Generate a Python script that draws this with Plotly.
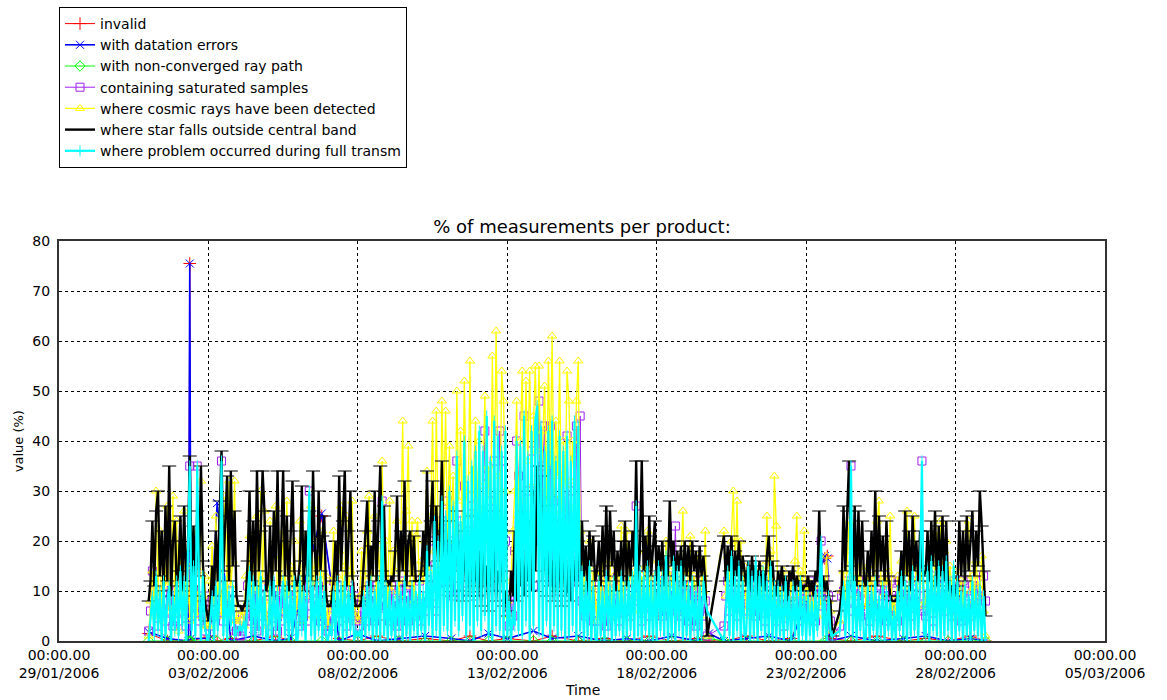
import pandas as pd
import plotly.graph_objects as go

# One product every 90 minutes, 01/02/2006 00:00 -> 01/03/2006 00:00 (16 per day)
times = pd.date_range("2006-02-01 00:00", "2006-03-01 00:00", freq="90min")

# % of measurements where star falls outside central band (None = no product)
star_outside = [
    8, 12, 24, 11, 26, 30, 13, 22, 10, 27, 12, 35, 9, 20, 24, 11,          # 01/02
    14, 25, 10, 27, 12, 18, 37, 11, 23, 9, 26, 13, 35, 16, 8, 6,           # 02/02
    4, 7, 15, 9, 22, 12, 28, 38, 14, 25, 33, 12, 34, 15, 26, 9,            # 03/02
    7, 7, 6, 7, 8, 16, 30, 12, 24, 11, 34, 14, 22, 34, 26, 10,             # 04/02
    12, 23, 9, 26, 14, 34, 11, 20, 34, 13, 25, 10, 22, 32, 14, 11,         # 05/02
    12, 16, 31, 10, 22, 13, 26, 12, 34, 18, 11, 30, 14, 21, 25, 9,         # 06/02
    7, 7, 8, 12, 20, 10, 33, 14, 24, 34, 11, 22, 30, 13, 9, 7,             # 07/02
    7, 7, 8, 14, 22, 28, 11, 19, 13, 30, 12, 24, 35, 14, 27, 12,           # 08/02
    12, 11, 13, 12, 18, 29, 12, 22, 14, 32, 11, 20, 22, 13, 21, 12,        # 09/02
    12, 12, 14, 22, 13, 34, 15, 24, 32, 12, 27, 16, 22, 36, 13, 20,        # 10/02
    11, 24, 9, 18, 14, 26, 10, 20, 8, 22, 12, 17, 9, 25, 11, 16,           # 11/02
    9, 18, 7, 23, 11, 15, 6, 21, 10, 26, 8, 14, 12, 19, 7, 10,             # 12/02
    5, 6, 14, 9, 22, 8, 18, 11, 26, 9, 15, 12, 24, 10, 30, 14,             # 13/02
    35, 27, 33, 12, 27, 9, 20, 11, 16, 8, 24, 10, 19, 7, 22, 9,            # 14/02
    10, 16, 8, 18, 12, 14, 20, 11, 24, 13, 19, 10, 22, 15, 21, 12,         # 15/02
    14, 20, 11, 23, 13, 27, 12, 26, 15, 22, 10, 18, 13, 20, 12, 24,        # 16/02
    11, 20, 13, 22, 15, 36, 12, 18, 36, 14, 21, 11, 25, 13, 19, 24,        # 17/02
    12, 19, 14, 20, 11, 17, 13, 28, 15, 20, 12, 18, 14, 19, 11, 20,        # 18/02
    13, 19, 12, 20, 14, 18, 11, 19, 13, 17, 12, 1, None, None, None, None,  # 19/02
    None, None, None, None, 21, 12, 19, 14, 21, 11, 18, 13, 20, 12, 17, 14,  # 20/02
    11, 16, 10, 17, 12, 15, 9, 16, 11, 14, 10, 17, 21, 12, 16, 10,         # 21/02
    9, 14, 11, 15, 10, 13, 8, 14, 12, 15, 10, 13, 11, 12, 10, 11,          # 22/02
    11, 13, 10, 12, 9, 14, 12, 26, 11, 13, 10, 12, 9, 8, 1, None,          # 23/02
    None, None, 6, 10, 27, 14, 26, 36, 15, 12, 27, 11, 26, 13, 24, 12,     # 24/02
    11, 18, 12, 22, 13, 30, 11, 25, 14, 21, 12, 24, 13, 9, 8, 8,           # 25/02
    8, 9, 12, 18, 11, 26, 13, 22, 10, 25, 14, 20, 12, 22, 15, 13,          # 26/02
    14, 22, 12, 24, 15, 26, 11, 23, 13, 25, 12, 24, 10, 11, 10, 9,         # 27/02
    10, 11, 24, 13, 22, 12, 25, 14, 20, 26, 13, 22, 15, 30, 23, 14,        # 28/02
    5,                                                                     # 01/03
]

# % of measurements where a problem occurred during full transmission
full_transm = [
    0, 5, 9, 1, 13, 2, 10, 0, 12, 1, 8, 11, 0, 9, 2, 12,
    1, 14, 3, 12, 0, 17, 35, 2, 15, 1, 35, 11, 0, 13, 3, 1,
    0, 4, 9, 0, 11, 2, 10, 36, 1, 12, 0, 10, 3, 11, 1, 2,
    2, 3, 2, 4, 1, 9, 14, 1, 12, 0, 11, 2, 13, 1, 10, 0,
    1, 11, 0, 12, 2, 10, 0, 9, 12, 1, 11, 0, 10, 1, 12, 0,
    1, 12, 2, 10, 0, 13, 30, 1, 11, 0, 12, 2, 13, 0, 10, 1,
    0, 3, 1, 10, 0, 12, 2, 11, 0, 12, 1, 10, 2, 11, 0, 2,
    1, 2, 0, 9, 1, 11, 2, 12, 0, 10, 1, 12, 0, 28, 1, 11,
    0, 10, 1, 9, 0, 11, 2, 10, 0, 12, 1, 9, 0, 11, 2, 10,
    1, 12, 2, 10, 0, 18, 3, 14, 1, 24, 2, 20, 0, 28, 3, 25,
    2, 30, 1, 27, 4, 37, 2, 24, 5, 40, 1, 32, 3, 35, 0, 38,
    4, 42, 2, 38, 5, 45, 1, 36, 0, 44, 3, 41, 2, 38, 0, 42,
    1, 8, 0, 6, 3, 40, 2, 39, 1, 45, 4, 37, 0, 42, 3, 44,
    47, 2, 43, 1, 38, 4, 42, 0, 44, 3, 36, 1, 41, 2, 38, 0,
    41, 1, 36, 3, 44, 0, 43, 2, 14, 0, 12, 1, 15, 0, 11, 1,
    0, 12, 1, 10, 0, 13, 2, 11, 0, 12, 1, 10, 2, 13, 0, 11,
    1, 12, 2, 13, 0, 27, 1, 14, 0, 13, 2, 15, 1, 12, 0, 13,
    0, 15, 2, 13, 1, 17, 0, 12, 1, 16, 0, 14, 2, 15, 0, 12,
    1, 11, 0, 12, 2, 10, 0, 11, 1, 12, 8, 6, None, None, None, None,
    None, None, None, None, 0, 6, 14, 1, 17, 0, 13, 2, 15, 0, 12, 1,
    2, 15, 0, 13, 1, 16, 0, 13, 2, 14, 0, 12, 1, 15, 0, 11,
    0, 11, 1, 10, 0, 12, 2, 9, 0, 11, 1, 10, 0, 12, 1, 9,
    0, 9, 1, 8, 0, 10, 2, 9, 20, 1, 8, 0, 9, 2, 1, None,
    None, None, 2, 6, 11, 1, 12, 2, 35, 1, 12, 0, 10, 2, 11, 0,
    1, 11, 0, 10, 2, 12, 0, 9, 1, 11, 0, 10, 2, 8, 0, 6,
    0, 10, 2, 13, 1, 12, 0, 11, 1, 14, 2, 12, 0, 13, 36, 2,
    1, 14, 0, 16, 2, 13, 1, 15, 0, 14, 1, 16, 2, 12, 0, 15,
    0, 12, 2, 10, 0, 11, 1, 9, 0, 12, 2, 10, 1, 11, 0, 9,
    0,
]

# % of measurements where cosmic rays have been detected
cosmic_rays = [
    1, 8, 14, 5, 30, 9, 22, 4, 18, 11, 27, 6, 12, 29, 7, 24,
    2, 19, 6, 26, 8, 15, 4, 22, 10, 17, 5, 14, 32, 9, 13, 3,
    3, 12, 19, 7, 25, 9, 14, 5, 21, 29, 8, 32, 11, 16, 32, 4,
    4, 5, 6, 3, 13, 8, 21, 7, 18, 10, 25, 6, 30, 12, 26, 5,
    3, 24, 8, 17, 27, 5, 19, 12, 22, 6, 28, 9, 15, 11, 20, 6,
    10, 24, 4, 18, 21, 9, 15, 27, 5, 20, 12, 17, 8, 22, 5, 13,
    3, 6, 12, 22, 8, 13, 18, 27, 6, 15, 25, 9, 14, 28, 7, 5,
    4, 9, 18, 8, 13, 22, 29, 10, 16, 25, 7, 19, 12, 36, 14, 20,
    6, 28, 10, 18, 14, 24, 9, 20, 44, 12, 26, 39, 11, 24, 8, 21,
    24, 9, 16, 12, 20, 34, 14, 25, 44, 18, 46, 22, 15, 48, 27, 46,
    20, 39, 24, 33, 18, 50, 28, 42, 22, 52, 30, 25, 56, 19, 34, 44,
    26, 40, 18, 31, 49, 24, 35, 20, 57, 28, 62, 33, 22, 54, 48, 30,
    8, 5, 12, 22, 30, 48, 25, 40, 54, 28, 52, 36, 54, 31, 45, 55,
    38, 55, 30, 42, 51, 27, 56, 35, 61, 29, 44, 33, 56, 26, 40, 31,
    54, 48, 32, 40, 27, 48, 56, 22, 18, 9, 16, 12, 20, 7, 14, 10,
    4, 14, 8, 18, 6, 12, 9, 16, 5, 13, 10, 15, 7, 23, 11, 6,
    22, 7, 16, 9, 14, 11, 18, 6, 13, 10, 15, 22, 8, 16, 6, 13,
    5, 12, 8, 15, 10, 20, 7, 14, 11, 16, 9, 13, 6, 17, 26, 11,
    8, 14, 21, 6, 13, 9, 17, 5, 14, 10, 22, 1, None, None, None, None,
    None, None, None, None, 22, 9, 17, 12, 20, 30, 14, 28, 11, 20, 9, 15,
    6, 13, 5, 11, 8, 14, 7, 12, 9, 15, 10, 25, 12, 18, 8, 33,
    23, 7, 12, 5, 14, 9, 11, 6, 13, 8, 16, 25, 9, 14, 10, 22,
    8, 12, 4, 10, 6, 11, 5, 9, 7, 12, 10, 17, 8, 6, 2, None,
    None, None, 4, 10, 14, 8, 18, 24, 12, 16, 9, 20, 11, 15, 7, 14,
    7, 15, 10, 13, 8, 17, 24, 28, 12, 9, 16, 11, 14, 25, 6, 8,
    5, 13, 9, 16, 11, 14, 26, 10, 18, 12, 25, 8, 15, 11, 14, 7,
    8, 14, 12, 17, 10, 15, 22, 11, 24, 13, 18, 20, 9, 15, 10, 12,
    5, 14, 9, 12, 7, 15, 22, 24, 10, 13, 8, 16, 11, 9, 17, 6,
    1,
]

# % of measurements containing saturated samples
saturated = [
    2, 6, 14, 7, 9, 3, 10, 5, 8, 4, 11, 6, 9, 3, 7, 10,
    4, 9, 6, 11, 3, 8, 35, 5, 10, 7, 35, 4, 9, 6, 2, 8,
    9, 3, 7, 10, 5, 8, 11, 36, 4, 9, 6, 10, 3, 8, 5, 2,
    3, 1, 2, 4, 6, 11, 4, 9, 7, 10, 2, 8, 11, 5, 9, 4,
    5, 12, 3, 8, 10, 2, 9, 4, 11, 6, 8, 3, 10, 5, 7, 9,
    8, 3, 11, 6, 9, 4, 30, 7, 10, 5, 8, 11, 4, 9, 6, 3,
    2, 5, 3, 12, 7, 9, 4, 11, 6, 10, 3, 8, 11, 5, 9, 4,
    5, 3, 8, 10, 4, 7, 11, 6, 9, 4, 11, 7, 5, 28, 8, 10,
    9, 4, 11, 6, 8, 3, 10, 5, 12, 7, 9, 4, 11, 6, 8, 5,
    7, 12, 4, 9, 6, 15, 8, 11, 9, 20, 6, 14, 10, 24, 12, 18,
    28, 12, 20, 9, 16, 36, 11, 24, 15, 31, 10, 22, 13, 27, 9, 29,
    14, 22, 10, 26, 42, 33, 12, 28, 16, 36, 11, 24, 42, 36, 9, 20,
    6, 3, 9, 5, 18, 40, 33, 22, 14, 45, 12, 30, 16, 38, 11, 26,
    30, 48, 20, 35, 43, 15, 24, 43, 12, 28, 36, 10, 25, 14, 33, 18,
    41, 22, 30, 16, 25, 43, 12, 45, 8, 12, 5, 10, 7, 11, 4, 9,
    4, 9, 13, 6, 11, 3, 8, 12, 5, 10, 7, 13, 4, 9, 11, 6,
    6, 10, 5, 12, 8, 27, 9, 11, 4, 13, 7, 10, 5, 12, 8, 11,
    7, 12, 9, 5, 11, 8, 13, 6, 10, 9, 23, 7, 12, 5, 11, 8,
    9, 4, 11, 7, 10, 3, 12, 6, 9, 5, 8, 1, None, None, None, None,
    None, None, None, None, 3, 9, 12, 6, 11, 8, 13, 5, 10, 7, 12, 9,
    9, 6, 12, 8, 11, 5, 10, 13, 7, 12, 4, 10, 8, 11, 6, 9,
    4, 11, 7, 9, 3, 10, 6, 12, 5, 9, 8, 11, 4, 10, 7, 12,
    5, 9, 12, 6, 10, 4, 11, 7, 20, 8, 12, 5, 9, 4, 1, None,
    None, None, 3, 9, 10, 7, 12, 8, 35, 6, 11, 9, 12, 5, 10, 6,
    8, 11, 4, 10, 7, 12, 5, 9, 11, 6, 10, 4, 9, 12, 5, 8,
    10, 4, 12, 7, 9, 11, 6, 10, 5, 12, 8, 11, 7, 9, 36, 6,
    5, 11, 8, 13, 4, 10, 12, 7, 9, 11, 6, 13, 8, 10, 5, 12,
    9, 6, 11, 4, 12, 8, 10, 9, 5, 11, 7, 12, 9, 10, 8, 13,
    8,
]

# Products flagged invalid / with datation errors / with non-converged ray path
flag_times = [
    "2006-02-01 00:00", "2006-02-01 15:00", "2006-02-02 08:00", "2006-02-02 09:00",
    "2006-02-02 10:00", "2006-02-03 01:00", "2006-02-03 07:00", "2006-02-03 18:00",
    "2006-02-04 12:00", "2006-02-05 06:00", "2006-02-05 18:00", "2006-02-06 19:00",
    "2006-02-07 09:00", "2006-02-08 00:00", "2006-02-08 15:00", "2006-02-09 09:00",
    "2006-02-10 06:00", "2006-02-11 03:00", "2006-02-11 18:00", "2006-02-12 09:00",
    "2006-02-13 00:00", "2006-02-13 21:00", "2006-02-14 12:00", "2006-02-15 09:00",
    "2006-02-16 06:00", "2006-02-17 00:00", "2006-02-17 18:00", "2006-02-18 12:00",
    "2006-02-19 09:00", "2006-02-19 18:00", "2006-02-20 06:00", "2006-02-21 00:00",
    "2006-02-21 18:00", "2006-02-22 12:00", "2006-02-23 15:00", "2006-02-23 17:00",
    "2006-02-23 19:00", "2006-02-24 12:00", "2006-02-25 09:00", "2006-02-26 06:00",
    "2006-02-27 00:00", "2006-02-27 18:00", "2006-02-28 12:00", "2006-03-01 00:00",
]
invalid = [
    1.5, 0, 0, 75.5, 0, 1, 0, 0.5, 0, 1, 0, 25, 0.5, 0, 1, 0, 0.5, 0, 1, 0, 0.5, 0,
    1, 0, 0.5, 0, 1, 0, 0.5, 0, 0, 1, 0, 0.5, 16.5, 17, 0.5, 0, 1, 0, 0.5, 0, 1, 0,
]
datation = [
    1.8, 0.5, 0, 75.5, 0.5, 0.5, 27.6, 0, 1, 0, 0.5, 25.5, 0, 1.5, 0, 0.5, 1, 0.5, 0, 1.5, 0.5, 2,
    0.5, 1, 0, 0.5, 0, 1, 0, 1.5, 0, 0.5, 1, 0, 17, 16.5, 0, 1, 0, 0.5, 1, 0, 0.5, 0,
]
non_converged = [
    0, 0, 0, 0, 0, 0, 0, 0, 0, 0, 0, 0, 0, 0, 0, 0, 0, 0, 0, 0, 0, 0,
    0, 0, 0, 0, 0, 0, 0, 0.5, 0, 0, 0, 0, 0, 0, 0, 0, 0, 0, 0, 0, 0, 0,
]

x_ticks = ["2006-01-29", "2006-02-03", "2006-02-08", "2006-02-13",
           "2006-02-18", "2006-02-23", "2006-02-28", "2006-03-05"]
x_tick_text = ["00:00.00<br>29/01/2006", "00:00.00<br>03/02/2006", "00:00.00<br>08/02/2006",
               "00:00.00<br>13/02/2006", "00:00.00<br>18/02/2006", "00:00.00<br>23/02/2006",
               "00:00.00<br>28/02/2006", "00:00.00<br>05/03/2006"]

FONT = "DejaVu Sans"

fig = go.Figure()


def add_series(name, x, y, color, symbol, size, width=1.0):
    fig.add_trace(go.Scatter(
        x=x, y=y, name=name, mode="lines+markers", connectgaps=True,
        line=dict(color=color, width=width),
        marker=dict(symbol=symbol, size=size, color=color,
                    line=dict(color=color, width=1)),
    ))


add_series("invalid", flag_times, invalid, "#ff0000", "cross-thin", 9)
add_series("with datation errors", flag_times, datation, "#0000ff", "x-thin", 8, 1.6)
add_series("with non-converged ray path", flag_times, non_converged, "#00ff00", "diamond-open", 8)
add_series("containing saturated samples", times, saturated, "#a020f0", "square-open", 8)
add_series("where cosmic rays have been detected", times, cosmic_rays, "#ffff00", "triangle-up-open", 8, 1.3)
add_series("where star falls outside central band", times, star_outside, "#000000", "line-ew", 10, 2.4)
add_series("where problem occurred during full transm", times, full_transm, "#00ffff", "line-ns", 8, 2.2)

fig.update_layout(
    width=1167, height=700,
    margin=dict(l=59, r=62, t=241, b=59, autoexpand=False),
    paper_bgcolor="white", plot_bgcolor="white",
    font=dict(family=FONT, size=14, color="black"),
    title=dict(text="% of measurements per product:", x=0.5, xref="paper", xanchor="center",
               y=0.676, yref="container", yanchor="middle",
               font=dict(family=FONT, size=18, color="black")),
    legend=dict(x=0, y=1.585, xanchor="left", yanchor="top", xref="paper", yref="paper",
                bgcolor="white", bordercolor="black", borderwidth=1,
                font=dict(family=FONT, size=14, color="black"),
                itemwidth=30, tracegroupgap=0),
    showlegend=True,
    annotations=[
        dict(text="Time", x=0.5, y=-0.1225, xref="paper", yref="paper",
             xanchor="center", yanchor="middle", showarrow=False,
             font=dict(family=FONT, size=14, color="black")),
        dict(text="value (%)", x=-0.039, y=0.5, xref="paper", yref="paper",
             xanchor="center", yanchor="middle", showarrow=False, textangle=-90,
             font=dict(family=FONT, size=13, color="black")),
    ],
)

fig.update_xaxes(
    type="date", range=["2006-01-29", "2006-03-05"], automargin=False,
    tickvals=x_ticks, ticktext=x_tick_text, tickfont=dict(size=14),
    showgrid=True, gridcolor="black", griddash="dot", gridwidth=1,
    showline=True, linecolor="#333333", linewidth=2, mirror=True,
    ticks="", zeroline=False,
)
fig.update_yaxes(
    range=[0, 80], tickvals=[0, 10, 20, 30, 40, 50, 60, 70, 80], tickfont=dict(size=14),
    automargin=False,
    showgrid=True, gridcolor="black", griddash="dot", gridwidth=1,
    showline=True, linecolor="#333333", linewidth=2, mirror=True,
    ticks="", zeroline=False, ticklabelstandoff=4,
)

fig.write_html("out.html")
